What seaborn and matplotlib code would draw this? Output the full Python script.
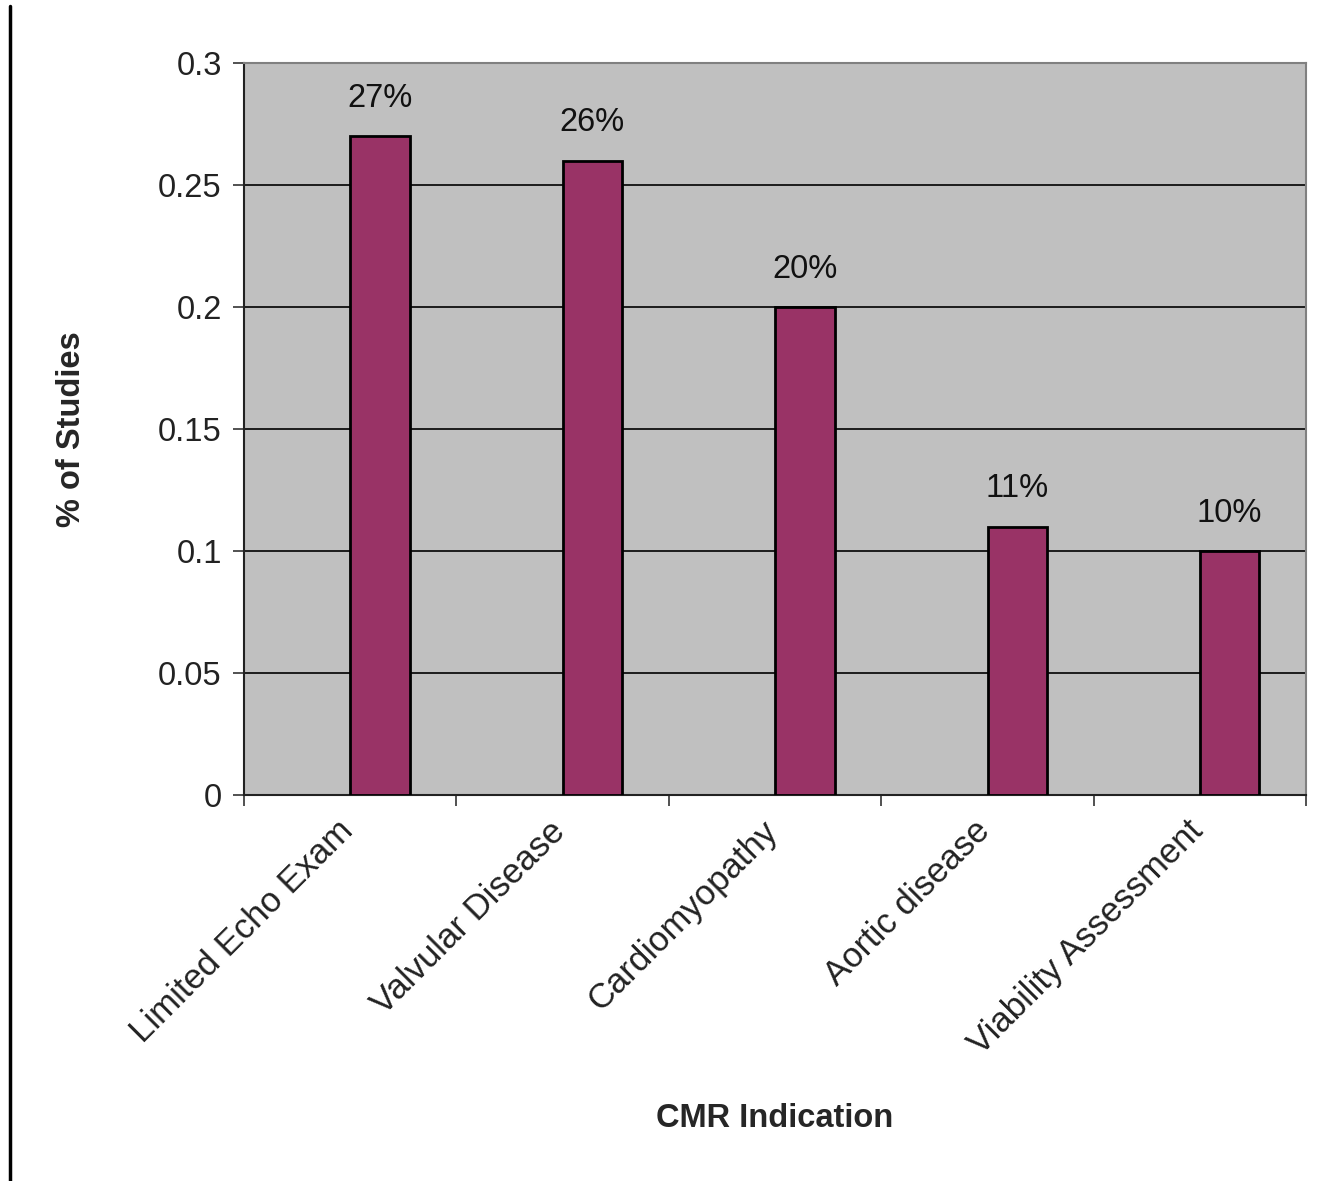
import pandas as pd
import seaborn as sns
import matplotlib.pyplot as plt
import matplotlib.transforms as mtransforms
from matplotlib.lines import Line2D

# dados
indicacoes = ['Limited Echo Exam', 'Valvular Disease', 'Cardiomyopathy',
              'Aortic disease', 'Viability Assessment']
fracao = [0.27, 0.26, 0.20, 0.11, 0.10]
rotulos = ['27%', '26%', '20%', '11%', '10%']

# serie vazia a esquerda (como no Excel) para deslocar as barras
df = pd.DataFrame({
    'ind': indicacoes * 2,
    'val': [float('nan')] * len(indicacoes) + fracao,
    'serie': ['vazia'] * len(indicacoes) + ['dados'] * len(indicacoes),
})

sns.set_style('white')
plt.rcParams['font.family'] = ['Liberation Sans', 'DejaVu Sans']

fig = plt.figure(figsize=(13.41, 11.81), dpi=100)
ax = fig.add_axes([0.182, 0.3268, 0.792, 0.6199])
ax.set_facecolor('#c0c0c0')

sns.barplot(data=df, x='ind', y='val', hue='serie', hue_order=['vazia', 'dados'],
            order=indicacoes, palette=['#993366', '#993366'], width=0.56, saturation=1,
            edgecolor='black', linewidth=2, legend=False, ax=ax, zorder=3)

ax.set_ylim(0, 0.3)
ax.set_xlim(-0.5, len(indicacoes) - 0.5)
ax.set_yticks([0, 0.05, 0.1, 0.15, 0.2, 0.25, 0.3])
ax.set_yticklabels(['0', '0.05', '0.1', '0.15', '0.2', '0.25', '0.3'], fontsize=23.5, color='#222222')
ax.yaxis.grid(True, color='black', linewidth=1.2, zorder=1)
ax.set_axisbelow(True)

ax.set_xticks(range(len(indicacoes)))
ax.set_xticklabels(indicacoes, rotation=45, ha='right', rotation_mode='anchor',
                   fontsize=25, color='#222222')
ax.tick_params(axis='x', which='major', length=0, pad=14)
desloc = mtransforms.ScaledTranslation(-14 / 100, 0, fig.dpi_scale_trans)
for lab in ax.get_xticklabels():
    lab.set_transform(lab.get_transform() + desloc)
ax.set_xticks([i - 0.5 for i in range(len(indicacoes) + 1)], minor=True)
ax.tick_params(axis='x', which='minor', length=8, width=1.2, color='#333333', direction='out', bottom=True)
ax.tick_params(axis='y', length=8, width=1.2, color='#333333', direction='out', left=True, pad=8)

for lado in ['top', 'right']:
    ax.spines[lado].set_color('#808080')
    ax.spines[lado].set_linewidth(1.5)
for lado in ['left', 'bottom']:
    ax.spines[lado].set_color('#222222')
    ax.spines[lado].set_linewidth(1.5)

ax.bar_label(ax.containers[1], labels=rotulos, padding=16, fontsize=23.5, color='#111111')

ax.set_xlabel('CMR Indication', fontsize=23.5, fontweight='bold')
ax.set_ylabel('% of Studies', fontsize=23.5, fontweight='bold')
ax.xaxis.set_label_coords(0.5, -0.421)
ax.yaxis.set_label_coords(-0.148, 0.5)

# linha vertical preta na borda esquerda
fig.add_artist(Line2D([0.0075, 0.0075], [0.0, 0.995], color='black', linewidth=2.5,
                      transform=fig.transFigure))

fig.savefig('out.png', dpi=100)
